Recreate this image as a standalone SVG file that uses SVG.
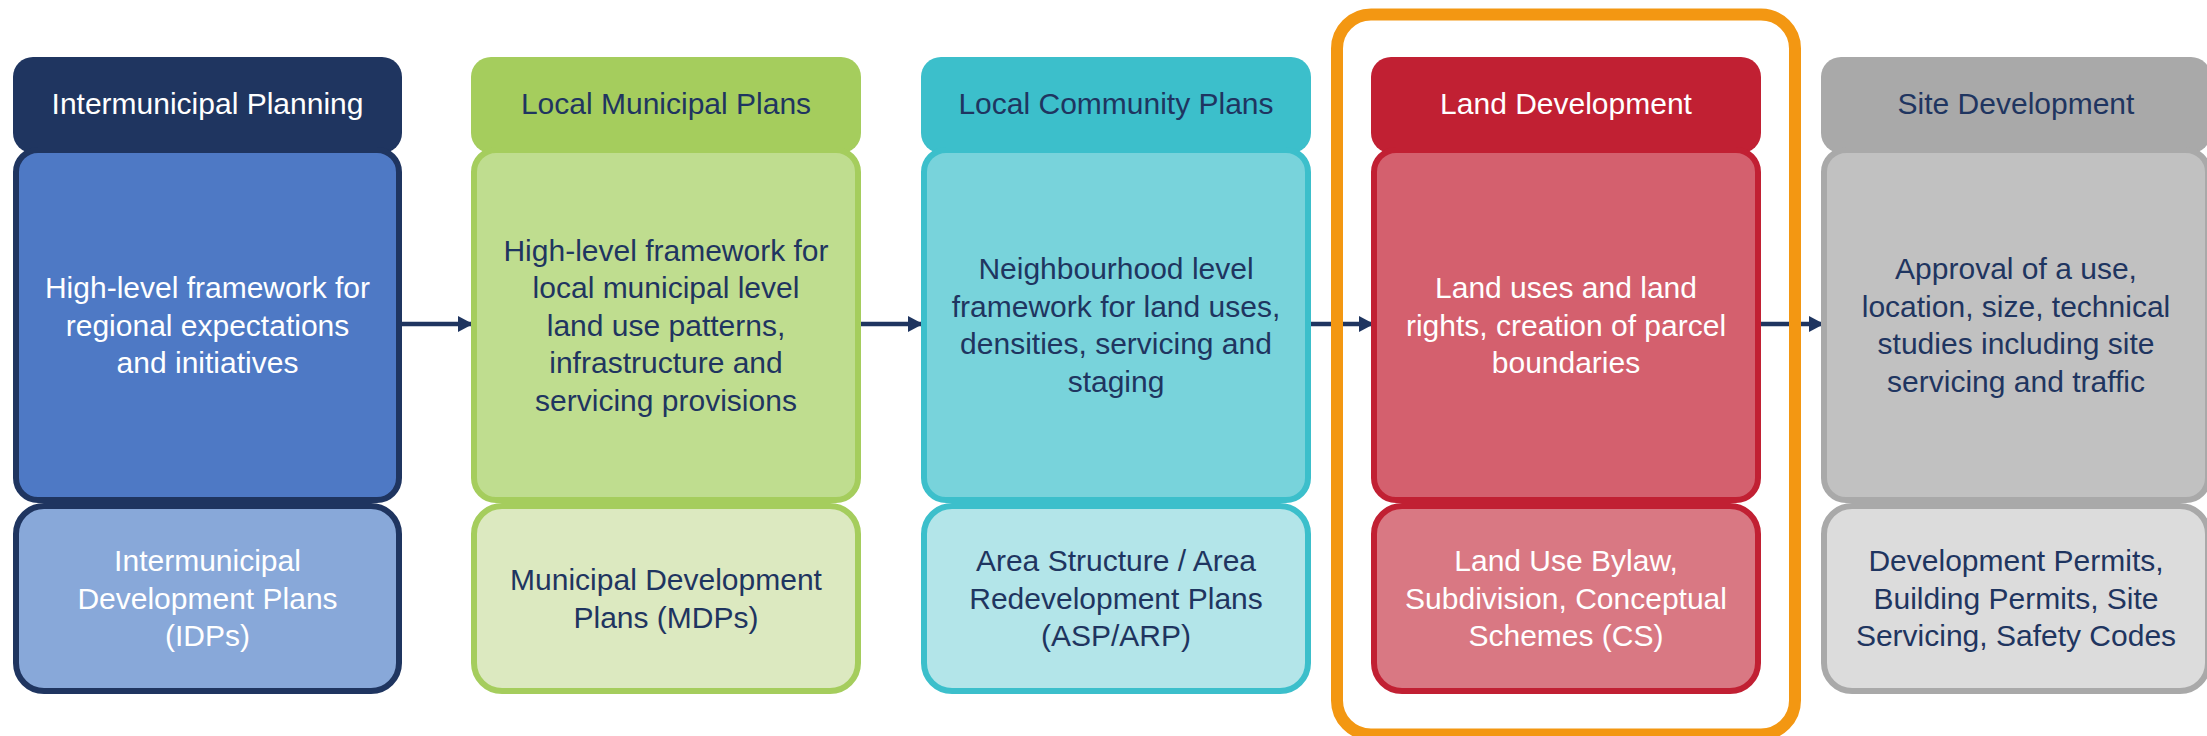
<svg xmlns="http://www.w3.org/2000/svg" width="2207" height="736" viewBox="0 0 2207 736">
<defs>
<style>
text{font-family:"Liberation Sans",Arial,sans-serif;font-size:30px;text-anchor:middle}
.w{fill:#ffffff}
.n{fill:#1f3560}
.box{stroke-width:6}
.conn{stroke:#1f3560;stroke-width:4.5;fill:none}
</style>
<marker id="ah" markerWidth="15" markerHeight="16" refX="14" refY="8" orient="auto" markerUnits="userSpaceOnUse">
<path d="M0,0 L15,8 L0,16 Z" fill="#1f3560"/>
</marker>
</defs>
<rect width="2207" height="736" fill="#ffffff"/>

<g id="connectors">
<line class="conn" x1="402" y1="324" x2="472" y2="324" marker-end="url(#ah)"/>
<line class="conn" x1="861" y1="324" x2="922" y2="324" marker-end="url(#ah)"/>
<line class="conn" x1="1309" y1="324" x2="1373" y2="324" marker-end="url(#ah)"/>
<line class="conn" x1="1759" y1="324" x2="1823" y2="324" marker-end="url(#ah)"/>
</g>

<g id="intermunicipal">
<rect x="13" y="57" width="389" height="96" rx="20" fill="#1f3560"/>
<text class="w" x="207.5" y="114">Intermunicipal Planning</text>
<rect class="box" x="16" y="150" width="383" height="350" rx="22" fill="#4e79c5" stroke="#1f3560"/>
<text class="w" x="207.5" y="298">High-level framework for</text>
<text class="w" x="207.5" y="335.5">regional expectations</text>
<text class="w" x="207.5" y="373">and initiatives</text>
<rect class="box" x="16" y="506" width="383" height="185" rx="28" fill="#88a8d9" stroke="#1f3560"/>
<text class="w" x="207.5" y="571">Intermunicipal</text>
<text class="w" x="207.5" y="608.5">Development Plans</text>
<text class="w" x="207.5" y="646">(IDPs)</text>
</g>

<g id="local-municipal">
<rect x="471" y="57" width="390" height="96" rx="20" fill="#a5cd5d"/>
<text class="n" x="666" y="114">Local Municipal Plans</text>
<rect class="box" x="474" y="150" width="384" height="350" rx="22" fill="#bfdd8f" stroke="#a5cd5d"/>
<text class="n" x="666" y="260.5">High-level framework for</text>
<text class="n" x="666" y="298">local municipal level</text>
<text class="n" x="666" y="335.5">land use patterns,</text>
<text class="n" x="666" y="373">infrastructure and</text>
<text class="n" x="666" y="410.5">servicing provisions</text>
<rect class="box" x="474" y="506" width="384" height="185" rx="28" fill="#dce9c0" stroke="#a5cd5d"/>
<text class="n" x="666" y="590">Municipal Development</text>
<text class="n" x="666" y="628">Plans (MDPs)</text>
</g>

<g id="local-community">
<rect x="921" y="57" width="390" height="96" rx="20" fill="#3cbfcb"/>
<text class="n" x="1116" y="114">Local Community Plans</text>
<rect class="box" x="924" y="150" width="384" height="350" rx="22" fill="#78d3db" stroke="#3cbfcb"/>
<text class="n" x="1116" y="279">Neighbourhood level</text>
<text class="n" x="1116" y="316.5">framework for land uses,</text>
<text class="n" x="1116" y="354">densities, servicing and</text>
<text class="n" x="1116" y="391.5">staging</text>
<rect class="box" x="924" y="506" width="384" height="185" rx="28" fill="#b3e5e9" stroke="#3cbfcb"/>
<text class="n" x="1116" y="571">Area Structure / Area</text>
<text class="n" x="1116" y="608.5">Redevelopment Plans</text>
<text class="n" x="1116" y="646">(ASP/ARP)</text>
</g>

<g id="land-development">
<rect x="1371" y="57" width="390" height="96" rx="20" fill="#c12033"/>
<text class="w" x="1566" y="114">Land Development</text>
<rect class="box" x="1374" y="150" width="384" height="350" rx="22" fill="#d4606e" stroke="#c12033"/>
<text class="w" x="1566" y="298">Land uses and land</text>
<text class="w" x="1566" y="335.5">rights, creation of parcel</text>
<text class="w" x="1566" y="373">boundaries</text>
<rect class="box" x="1374" y="506" width="384" height="185" rx="28" fill="#d97883" stroke="#c12033"/>
<text class="w" x="1566" y="571">Land Use Bylaw,</text>
<text class="w" x="1566" y="608.5">Subdivision, Conceptual</text>
<text class="w" x="1566" y="646">Schemes (CS)</text>
</g>

<g id="site-development">
<rect x="1821" y="57" width="390" height="96" rx="20" fill="#a9a9a9"/>
<text class="n" x="2016" y="114">Site Development</text>
<rect class="box" x="1824" y="150" width="384" height="350" rx="22" fill="#c1c1c1" stroke="#a9a9a9"/>
<text class="n" x="2016" y="279">Approval of a use,</text>
<text class="n" x="2016" y="316.5">location, size, technical</text>
<text class="n" x="2016" y="354">studies including site</text>
<text class="n" x="2016" y="391.5">servicing and traffic</text>
<rect class="box" x="1824" y="506" width="384" height="185" rx="28" fill="#dcdcdc" stroke="#a9a9a9"/>
<text class="n" x="2016" y="571">Development Permits,</text>
<text class="n" x="2016" y="608.5">Building Permits, Site</text>
<text class="n" x="2016" y="646">Servicing, Safety Codes</text>
</g>

<g id="highlight">
<rect x="1337" y="14.5" width="458" height="720" rx="34" fill="none" stroke="#f39712" stroke-width="12"/>
</g>
</svg>
